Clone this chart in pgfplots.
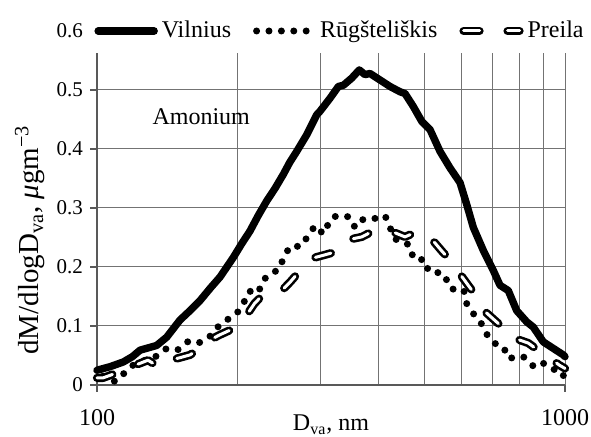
\documentclass[border=0pt]{standalone}
\usepackage{pgfplots}
\pgfplotsset{compat=1.18}
\usepackage{fontspec}
\setmainfont{Liberation Serif}

\pgfplotstableread{
D      v
100    0.025
106.6  0.031
113.8  0.039
119    0.048
123.6  0.059
134.1  0.067
140.9  0.081
150.4  0.110
158    0.126
166.0  0.143
175    0.165
183.2  0.183
195.5  0.216
204    0.240
212.3  0.261
221    0.287
230.5  0.312
240    0.333
250.1  0.357
258    0.377
267.2  0.396
280.6  0.424
294.8  0.458
299.6  0.464
314.7  0.486
328.0  0.506
336.1  0.508
350.1  0.520
363.5  0.534
373.8  0.526
383.1  0.528
402.4  0.517
422.7  0.506
444.0  0.497
455.1  0.494
474.1  0.472
494.1  0.447
514.6  0.433
540.6  0.396
567.9  0.368
596.6  0.343
616.6  0.306
637.0  0.267
669.1  0.228
702.9  0.194
726.4  0.169
756.7  0.160
788.6  0.126
828.4  0.107
855.8  0.098
898.8  0.073
944.1  0.062
991.7  0.051
1000   0.048
}\vilnius

\pgfplotstableread{
D      v
103    0.015
109.3  0.006
119.6  0.034
126.6  0.042
134.1  0.049
140.9  0.062
149.1  0.060
156.7  0.074
164.6  0.071
172.9  0.079
180.3  0.097
189.3  0.110
198.8  0.121
205.4  0.138
211.5  0.159
221.1  0.156
226.0  0.177
234.2  0.188
245.2  0.196
250.1  0.215
258.5  0.235
272.4  0.235
282.8  0.253
292.3  0.270
304.5  0.256
312.1  0.273
319.9  0.285
330.6  0.287
346.0  0.285
355.9  0.267
370.7  0.281
391.3  0.282
412.6  0.287
422.7  0.267
433.4  0.247
447.8  0.245
466.5  0.236
474.1  0.214
502.2  0.212
510.5  0.193
549.5  0.189
561    0.175
573.5  0.162
590.7  0.165
608.4  0.159
616.6  0.138
637.0  0.121
661.6  0.105
680.5  0.086
705.4  0.071
738.5  0.065
756.7  0.045
785.9  0.047
814.6  0.048
835.0  0.039
855.8  0.032
891.6  0.039
929.0  0.028
985    0.023
1000   0.008
}\rugsteliskis

\pgfplotstableread{
D      v
100    0.012
103    0.012
108    0.018
116    0.024
122    0.035
128.5  0.042
136    0.030
143    0.042
150    0.046
158    0.051
166    0.062
174    0.076
183    0.085
192.5  0.093
200    0.105
209    0.119
217    0.138
225    0.151
237    0.158
249    0.161
259    0.175
269    0.190
280    0.203
292    0.216
305    0.220
318    0.224
328    0.236
339    0.246
353    0.248
368    0.251
387    0.260
409    0.255
433    0.258
455    0.251
483    0.260
505    0.252
527    0.241
547    0.226
568    0.212
585    0.198
603    0.183
625    0.166
649    0.149
665    0.135
680    0.122
707    0.110
735    0.098
750    0.090
762    0.081
801    0.076
835    0.071
865    0.062
894    0.054
930    0.045
971    0.034
1000   0.028
}\preila

\begin{document}
\begin{tikzpicture}
\useasboundingbox (-48.5pt,-26pt) rectangle (247pt,192.5pt);
\begin{axis}[
    at={(0,0)}, anchor=south west,
    scale only axis,
    width=234pt, height=177pt,
    xmode=log,
    xmin=100, xmax=1000,
    ymin=0, ymax=0.6,
    clip=false,
    axis x line*=bottom,
    axis y line*=left,
    axis line style={line width=0.6pt, black!65},
    xtick={100,1000},
    xticklabels={100,1000},
    minor xtick={200,300,400,500,600,700,800,900},
    ytick={0,0.1,0.2,0.3,0.4,0.5,0.6},
    yticklabels={0,0.1,0.2,0.3,0.4,0.5,0.6},
    tick align=outside,
    major tick length=3.5pt,
    minor tick length=0pt,
    tick style={line width=0.6pt, black!65},
    xmajorgrids, xminorgrids, ymajorgrids,
    grid style={line width=0.5pt, black!55},
    minor grid style={line width=0.5pt, black!55},
    xticklabel style={font=\fontsize{12}{14}\selectfont, anchor=base, yshift=-17pt},
    yticklabel style={font=\fontsize{10.5}{12}\selectfont},
    xlabel={D\textsubscript{va}, nm},
    xlabel style={font=\fontsize{12}{14}\selectfont, at={(axis description cs:0.5,0)}, anchor=base, yshift=-23pt},
    ylabel={dM/dlogD\textsubscript{va}, {\itshape μ}gm\textsuperscript{−3}},
    ylabel style={font=\fontsize{14.5}{16}\selectfont, at={(axis description cs:-0.143,0.41)}, anchor=center},
    legend columns=-1,
    legend style={at={(-0.017,1)}, anchor=west, fill=white, draw=none,
        font=\fontsize{12}{14}\selectfont, inner xsep=2.5pt, inner ysep=4pt,
        /tikz/every even column/.append style={column sep=9pt}},
    legend image code/.code={\draw[#1] (0pt,0pt) -- (28pt,0pt);},
]
\addplot[black, line width=3.7pt, line join=round, line cap=round] table[x=D, y=v] {\vilnius};
\addlegendentry{Vilnius}
\addplot[black, line width=3.5pt, line cap=round, dash pattern=on 0pt off 6.2pt] table[x=D, y=v] {\rugsteliskis};
\addlegendentry{Rūgšteliškis}
\addplot[black, line width=1.3pt, double=white, double distance=1.5pt, line cap=round, line join=round, dash pattern=on 8pt off 14pt] table[x=D, y=v] {\preila};
\addlegendentry{Preila}
\node[font=\fontsize{12}{14}\selectfont] at (axis cs:167,0.455) {Amonium};
\end{axis}
\end{tikzpicture}
\end{document}
